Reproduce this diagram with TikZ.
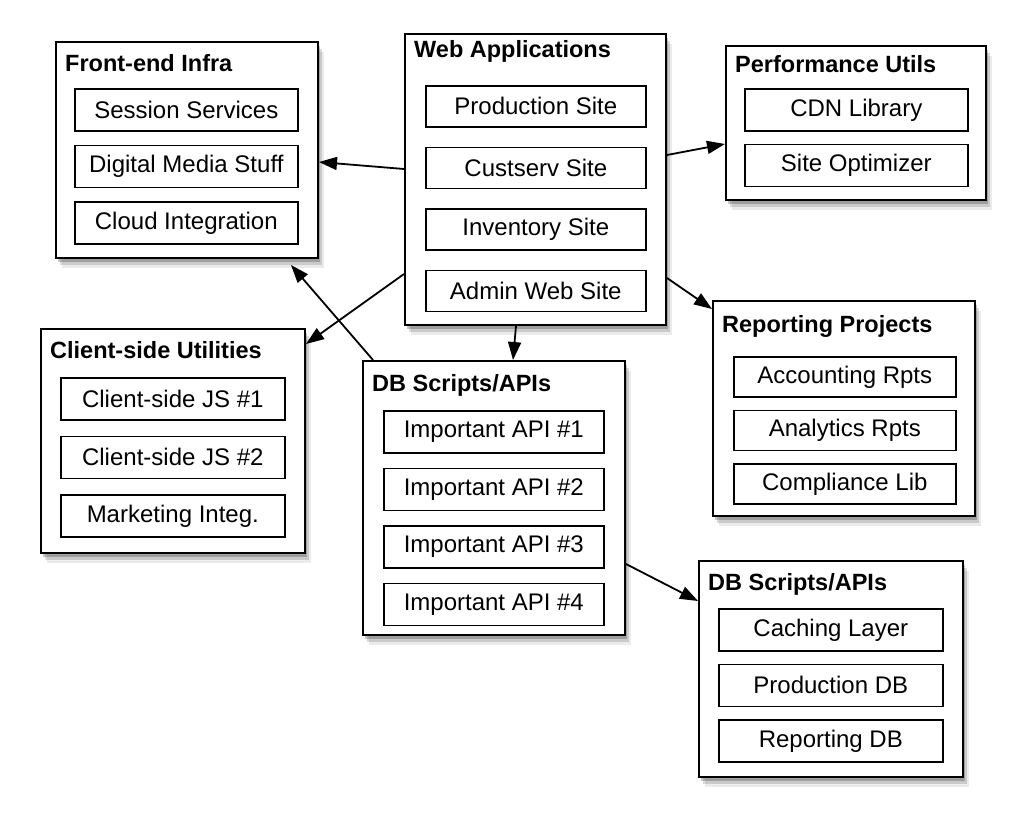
\documentclass[tikz,border=0pt]{standalone}
\usepackage{fontspec}
\setmainfont{Liberation Sans}
\usetikzlibrary{positioning,arrows.meta,shadows}

\tikzset{
	group/.style={draw, line width=2pt, fill=white, anchor=north west, inner sep=0pt,
		drop shadow={fill=black, opacity=0.08, shadow xshift=6pt, shadow yshift=-10pt},
		drop shadow={fill=black, opacity=0.14, shadow xshift=4pt, shadow yshift=-7pt},
		drop shadow={fill=black, opacity=0.22, shadow xshift=2pt, shadow yshift=-4pt}},
	head/.style={anchor=base west, inner sep=0pt, font=\bfseries\fontsize{23.5}{27}\selectfont},
	item/.style={draw, line width=1.6pt, fill=white, minimum width=223pt, minimum height=42pt,
		inner sep=0pt, font=\fontsize{24}{28}\selectfont},
	link/.style={line width=1.8pt, -{Triangle[length=18pt,width=13pt]}},
}

\begin{document}
\begin{tikzpicture}[x=1pt, y=-1pt]
		\useasboundingbox (0,0) rectangle (1026,824);

		% front-end infra
		\node[group, minimum width=262pt, minimum height=216pt] (fe) at (55,41) {};
		\node[head] (fe-h) at ([xshift=10pt, yshift=-31pt]fe.north west) {Front-end Infra};
		\node[item, anchor=north west] (fe-1) at ([xshift=19pt, yshift=-47pt]fe.north west) {Session Services};
		\node[item, below=13pt of fe-1] (fe-2) {Digital Media Stuff};
		\node[item, below=13pt of fe-2] (fe-3) {Cloud Integration};

		% web applications
		\node[group, minimum width=261pt, minimum height=291pt] (web) at (404,33) {};
		\node[head] (web-h) at ([xshift=10pt, yshift=-25pt]web.north west) {Web Applications};
		\node[item, minimum width=220pt, minimum height=41pt, anchor=north west] (web-1) at ([xshift=21pt, yshift=-52pt]web.north west) {Production Site};
		\node[item, minimum width=220pt, minimum height=41pt, below=19pt of web-1] (web-2) {Custserv Site};
		\node[item, minimum width=220pt, minimum height=41pt, below=19pt of web-2] (web-3) {Inventory Site};
		\node[item, minimum width=220pt, minimum height=41pt, below=19pt of web-3] (web-4) {Admin Web Site};

		% performance utils
		\node[group, minimum width=260pt, minimum height=154pt] (perf) at (725,45) {};
		\node[head] (perf-h) at ([xshift=10pt, yshift=-28pt]perf.north west) {Performance Utils};
		\node[item, anchor=north west] (perf-1) at ([xshift=19pt, yshift=-43pt]perf.north west) {CDN Library};
		\node[item, below=12pt of perf-1] (perf-2) {Site Optimizer};

		% client-side utilities
		\node[group, minimum width=264pt, minimum height=224pt] (cs) at (40,328) {};
		\node[head] (cs-h) at ([xshift=10pt, yshift=-30pt]cs.north west) {Client-side Utilities};
		\node[item, minimum width=224pt, anchor=north west] (cs-1) at ([xshift=20pt, yshift=-49pt]cs.north west) {Client-side JS \#1};
		\node[item, minimum width=224pt, below=15pt of cs-1] (cs-2) {Client-side JS \#2};
		\node[item, minimum width=224pt, below=15pt of cs-2] (cs-3) {Marketing Integ.};

		% db scripts (middle)
		\node[group, minimum width=262pt, minimum height=274pt] (api) at (362,360) {};
		\node[head] (api-h) at ([xshift=10pt, yshift=-31pt]api.north west) {DB Scripts/APIs};
		\node[item, minimum width=220pt, anchor=north west] (api-1) at ([xshift=21pt, yshift=-50pt]api.north west) {Important API \#1};
		\node[item, minimum width=220pt, below=14pt of api-1] (api-2) {Important API \#2};
		\node[item, minimum width=220pt, below=14pt of api-2] (api-3) {Important API \#3};
		\node[item, minimum width=220pt, below=14pt of api-3] (api-4) {Important API \#4};

		% reporting projects
		\node[group, minimum width=262pt, minimum height=215pt] (rep) at (712,300) {};
		\node[head] (rep-h) at ([xshift=10pt, yshift=-32pt]rep.north west) {Reporting Projects};
		\node[item, minimum width=222pt, minimum height=40pt, anchor=north west] (rep-1) at ([xshift=21pt, yshift=-56pt]rep.north west) {Accounting Rpts};
		\node[item, minimum width=222pt, minimum height=40pt, below=12pt of rep-1] (rep-2) {Analytics Rpts};
		\node[item, minimum width=222pt, minimum height=40pt, below=12pt of rep-2] (rep-3) {Compliance Lib};

		% db scripts (bottom)
		\node[group, minimum width=264pt, minimum height=216pt] (db) at (698,560) {};
		\node[head] (db-h) at ([xshift=10pt, yshift=-30pt]db.north west) {DB Scripts/APIs};
		\node[item, minimum width=224pt, anchor=north west] (db-1) at ([xshift=20pt, yshift=-48pt]db.north west) {Caching Layer};
		\node[item, minimum width=224pt, below=12pt of db-1] (db-2) {Production DB};
		\node[item, minimum width=224pt, below=12pt of db-2] (db-3) {Reporting DB};

		% connectors
		\draw[link] ([yshift=10.5pt]web.west) -- ([yshift=-12pt]fe.east);
		\draw[link] ([yshift=24.5pt]web.east) -- ([yshift=-21pt]perf.west);
		\draw[link] ([yshift=-94.5pt]web.west) -- ([yshift=97pt]cs.east);
		\draw[link] ([xshift=-19.5pt]web.south) -- ([xshift=19pt]api.north);
		\draw[link] ([yshift=-98.5pt]web.east) -- ([yshift=99.5pt]rep.west);
		\draw[link] ([xshift=-121pt]api.north) -- ([xshift=104pt, yshift=-6pt]fe.south);
		\draw[link] ([yshift=-66pt]api.east) -- ([yshift=68pt]db.west);
\end{tikzpicture}
\end{document}
